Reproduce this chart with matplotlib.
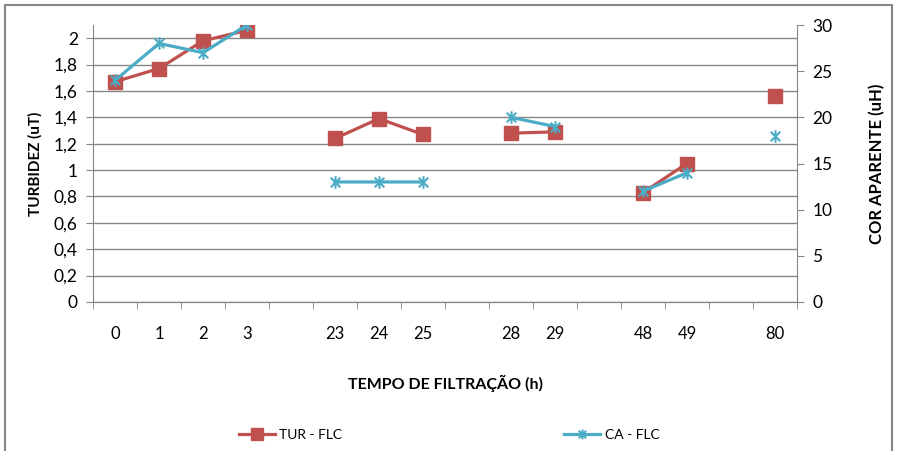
import numpy as np
import matplotlib
matplotlib.use('Agg')
import matplotlib.pyplot as plt
from matplotlib.path import Path
from matplotlib.patches import Rectangle

# categories (blank slots make the gaps between groups)
tempo = ['0', '1', '2', '3', '', '23', '24', '25', '', '28', '29', '', '48', '49', '', '80']
tur_flc = [1.67, 1.77, 1.98, 2.06, None, 1.24, 1.39, 1.27, None, 1.28, 1.29, None, 0.83, 1.05, None, 1.56]
ca_flc = [24, 28, 27, 30, None, 13, 13, 13, None, 20, 19, None, 12, 14, None, 18]

tur_ticks = [0, 0.2, 0.4, 0.6, 0.8, 1.0, 1.2, 1.4, 1.6, 1.8, 2.0]
tur_labels = ['0', '0,2', '0,4', '0,6', '0,8', '1', '1,2', '1,4', '1,6', '1,8', '2']
ca_ticks = [0, 5, 10, 15, 20, 25, 30]

red = '#C0504D'
blue = '#4BACC6'
gray = '#868686'

plt.rcParams['font.family'] = ['Lato', 'DejaVu Sans']

# asterisk marker like Excel's star (x + vertical bar)
star = Path([(-1, -1), (1, 1), (-1, 1), (1, -1), (0, -1.3), (0, 1.3)],
            [Path.MOVETO, Path.LINETO, Path.MOVETO, Path.LINETO, Path.MOVETO, Path.LINETO])

x = np.arange(len(tempo))
tur = np.array([np.nan if v is None else v for v in tur_flc])
ca = np.array([np.nan if v is None else v for v in ca_flc])

fig = plt.figure(figsize=(8.98, 4.51), dpi=100)
fig.patches.append(Rectangle((5 / 898, -0.05), 887 / 898, 1.05 - 5 / 451, transform=fig.transFigure,
                             fill=False, edgecolor=gray, linewidth=1.5))

ax = fig.add_axes([93 / 898, 1 - 302 / 451, 704 / 898, 277 / 451])
ax2 = ax.twinx()

ax.plot(x, tur, color=red, linewidth=2.3, marker='s', markersize=10, label='TUR - FLC')
ax2.plot(x, ca, color=blue, linewidth=2.3, marker=star, markersize=9, markeredgewidth=1.5, label='CA - FLC')

ax.set_xlim(-0.5, len(tempo) - 0.5)
ax.set_ylim(0, 2.1)
ax2.set_ylim(0, 30)

ax.set_yticks(tur_ticks)
ax.set_yticklabels(tur_labels)
ax2.set_yticks(ca_ticks)
ax.yaxis.grid(True, color=gray, linewidth=1)
ax.set_axisbelow(True)

ax.set_xticks(x)
ax.set_xticklabels(tempo)
ax.set_xticks(np.arange(-0.5, len(tempo)), minor=True)
ax.tick_params(axis='x', which='major', length=0, pad=17, labelsize=12, colors='black')
ax.tick_params(axis='x', which='minor', length=5, color=gray, direction='out')
ax.tick_params(axis='y', length=5, color=gray, labelsize=12.5, pad=6)
ax2.tick_params(axis='y', length=5, color=gray, labelsize=12.5, pad=6)

for a in (ax, ax2):
    a.spines['top'].set_visible(False)
    for s in ('left', 'right', 'bottom'):
        a.spines[s].set_color(gray)
ax2.spines['left'].set_visible(False)
ax.spines['right'].set_visible(False)

ax.set_ylabel('TURBIDEZ (uT)', fontsize=11, fontweight='bold', labelpad=8)
ax2.set_ylabel('COR APARENTE (uH)', fontsize=12, fontweight='bold', labelpad=26)
ax.set_xlabel('TEMPO DE FILTRAÇÃO (h)', fontsize=11.5, fontweight='bold', labelpad=24)

h1, l1 = ax.get_legend_handles_labels()
h2, l2 = ax2.get_legend_handles_labels()
leg = fig.legend(h1 + h2, l1 + l2, loc='center', bbox_to_anchor=(0.5, 1 - 435 / 451), ncol=2,
                 frameon=False, fontsize=10, handlelength=2.6, handletextpad=0.3, columnspacing=16)
leg.legend_handles[0].set_markersize(8)
leg.legend_handles[1].set_markersize(7)

fig.savefig('out.png', dpi=100)
